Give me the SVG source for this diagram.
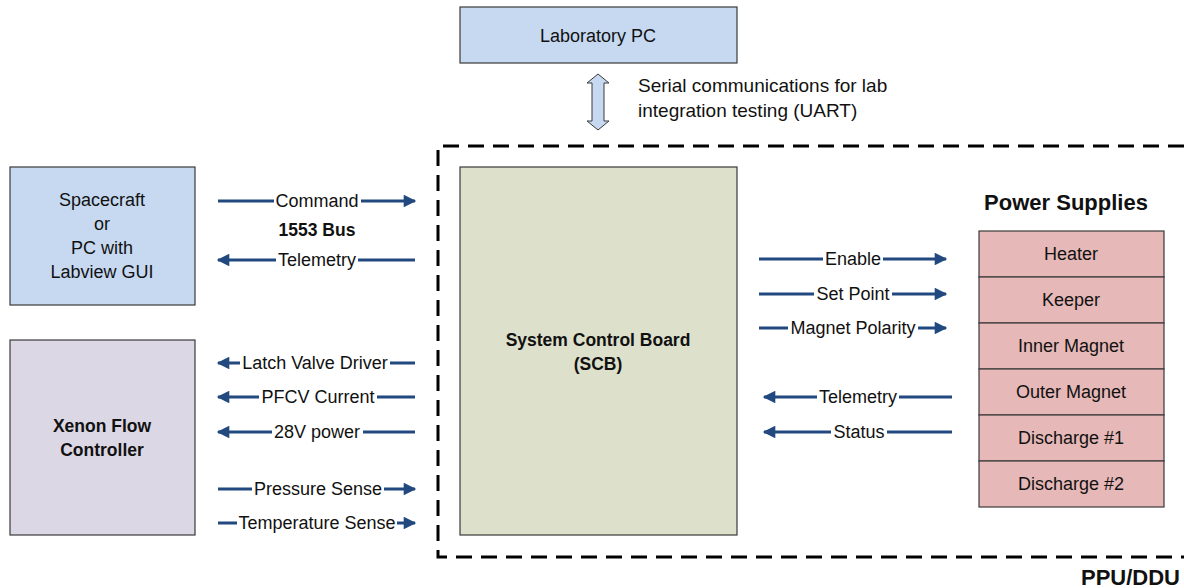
<svg xmlns="http://www.w3.org/2000/svg" width="1184" height="588" viewBox="0 0 1184 588">
<defs>
<marker id="ah" viewBox="0 0 10 10" refX="9" refY="5" markerWidth="4.5" markerHeight="4.2" orient="auto" markerUnits="strokeWidth">
<path d="M0,0 L10,5 L0,10 z" fill="#22497f"/>
</marker>
</defs>
<style>
text{font-family:"Liberation Sans",Arial,sans-serif;font-size:18px;fill:#111;}
.b{font-weight:bold;font-size:17.5px;}
.node{stroke:#3a3a3a;stroke-width:1.2;}
.c{stroke:#22497f;stroke-width:3;fill:none;marker-end:url(#ah);}
.lbl{text-anchor:middle;}
.bg{fill:#fff;}
</style>
<rect width="1184" height="588" fill="#fff"/>
<g id="ppu-boundary">
<path d="M1184,146 L438,146 L438,557 L1184,557" fill="none" stroke="#000" stroke-width="3" stroke-dasharray="16,9"/>
<text x="1180" y="585" class="b" text-anchor="end" style="font-size:22px">PPU/DDU</text>
</g>
<g id="lab-pc">
<rect class="node" x="460" y="7" width="277" height="56" fill="#c6d9f1"/>
<text x="598" y="42" class="lbl">Laboratory PC</text>
</g>
<g id="spacecraft">
<rect class="node" x="10" y="167" width="185" height="138" fill="#c6d9f1"/>
<text x="102" y="206" class="lbl">Spacecraft</text>
<text x="102" y="230" class="lbl">or</text>
<text x="102" y="254" class="lbl">PC with</text>
<text x="102" y="278" class="lbl">Labview GUI</text>
</g>
<g id="xenon">
<rect class="node" x="10" y="340" width="185" height="195" fill="#dcd7e5"/>
<text x="102" y="432" class="lbl b">Xenon Flow</text>
<text x="102" y="456" class="lbl b">Controller</text>
</g>
<g id="scb">
<rect class="node" x="460" y="167" width="277" height="368" fill="#dde0ca"/>
<text x="598" y="346" class="lbl b">System Control Board</text>
<text x="598" y="370" class="lbl b">(SCB)</text>
</g>
<g id="power-supplies">
<text x="1066" y="210" class="lbl b" style="font-size:22px">Power Supplies</text>
<g fill="#e6b8b7">
<rect class="node" x="979" y="231" width="185" height="46"/>
<rect class="node" x="979" y="277" width="185" height="46"/>
<rect class="node" x="979" y="323" width="185" height="46"/>
<rect class="node" x="979" y="369" width="185" height="46"/>
<rect class="node" x="979" y="415" width="185" height="46"/>
<rect class="node" x="979" y="461" width="185" height="46"/>
</g>
<text x="1071" y="260" class="lbl">Heater</text>
<text x="1071" y="306" class="lbl">Keeper</text>
<text x="1071" y="352" class="lbl">Inner Magnet</text>
<text x="1071" y="398" class="lbl">Outer Magnet</text>
<text x="1071" y="444" class="lbl">Discharge #1</text>
<text x="1071" y="490" class="lbl">Discharge #2</text>
</g>
<g id="connectors">
<path d="M598,74 L609,83 L604,83 L604,121 L609,121 L598,130 L587,121 L592,121 L592,83 L587,83 Z" fill="#c6d9f1" stroke="#3a3a3a" stroke-width="1"/>
<text x="638" y="92" style="font-size:19px">Serial communications for lab</text>
<text x="638" y="117" style="font-size:19px">integration testing (UART)</text>

<path class="c" d="M218,201 L415,201"/>
<rect class="bg" x="274" y="190" width="87" height="22"/>
<text x="317" y="207" class="lbl">Command</text>
<text x="317" y="236" class="lbl b">1553 Bus</text>
<path class="c" d="M415,260 L218,260"/>
<rect class="bg" x="276" y="249" width="82" height="22"/>
<text x="317" y="266" class="lbl">Telemetry</text>

<path class="c" d="M415,363 L218,363"/>
<rect class="bg" x="240" y="352" width="150" height="22"/>
<text x="315" y="369" class="lbl">Latch Valve Driver</text>
<path class="c" d="M415,397 L218,397"/>
<rect class="bg" x="259" y="386" width="118" height="22"/>
<text x="318" y="403" class="lbl">PFCV Current</text>
<path class="c" d="M415,432 L218,432"/>
<rect class="bg" x="272" y="421" width="91" height="22"/>
<text x="317" y="438" class="lbl">28V power</text>
<path class="c" d="M218,489 L415,489"/>
<rect class="bg" x="252" y="478" width="132" height="22"/>
<text x="318" y="495" class="lbl">Pressure Sense</text>
<path class="c" d="M218,523 L415,523"/>
<rect class="bg" x="237" y="512" width="160" height="22"/>
<text x="317" y="529" class="lbl">Temperature Sense</text>

<path class="c" d="M759,259 L946,259"/>
<rect class="bg" x="823" y="248" width="60" height="22"/>
<text x="853" y="265" class="lbl">Enable</text>
<path class="c" d="M759,294 L946,294"/>
<rect class="bg" x="814" y="283" width="78" height="22"/>
<text x="853" y="300" class="lbl">Set Point</text>
<path class="c" d="M759,328 L946,328"/>
<rect class="bg" x="788" y="317" width="130" height="22"/>
<text x="853" y="334" class="lbl">Magnet Polarity</text>

<path class="c" d="M952,397 L764,397"/>
<rect class="bg" x="817" y="386" width="82" height="22"/>
<text x="858" y="403" class="lbl">Telemetry</text>
<path class="c" d="M952,432 L764,432"/>
<rect class="bg" x="831" y="421" width="56" height="22"/>
<text x="859" y="438" class="lbl">Status</text>
</g>
</svg>
